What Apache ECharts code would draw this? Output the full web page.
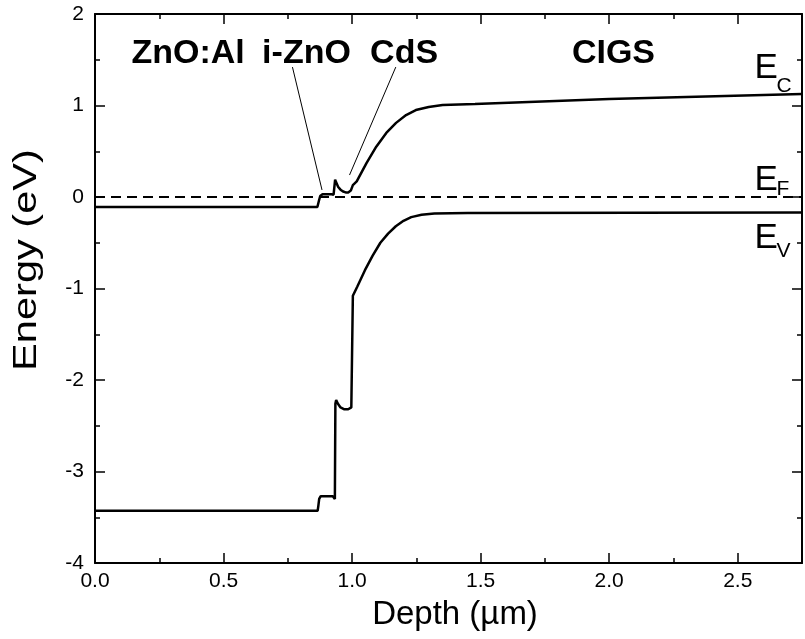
<!DOCTYPE html>
<html>
<head>
<meta charset="utf-8">
<script src="https://cdn.jsdelivr.net/npm/echarts@6/dist/echarts.min.js"></script>
<style>
  html, body { margin: 0; padding: 0; background: #fff; }
  #chart { width: 805px; height: 639px; }
</style>
</head>
<body>
<div id="chart"></div>
<script>
// conduction band edge E_C
const ecDepth = [0, 0.865, 0.869, 0.872, 0.876, 0.885, 0.92, 0.928, 0.932, 0.934, 0.938, 0.946, 0.955,
  0.965, 0.975, 0.985, 0.995, 1.0, 1.003, 1.018, 1.056, 1.094, 1.133, 1.171, 1.21, 1.248, 1.298, 1.352,
  1.478, 2.0, 2.75];
const ecEnergy = [-0.11, -0.11, -0.09, -0.03, 0.01, 0.03, 0.03, 0.025, 0.02, 0.19, 0.16, 0.11, 0.08,
  0.06, 0.05, 0.05, 0.07, 0.08, 0.13, 0.17, 0.37, 0.55, 0.7, 0.81, 0.896, 0.95, 0.984, 1.005,
  1.016, 1.07, 1.125];

// valence band edge E_V
const evDepth = [0, 0.866, 0.869, 0.872, 0.878, 0.925, 0.93, 0.933, 0.935, 0.938, 0.945, 0.955, 0.97,
  0.985, 0.997, 1.0, 1.003, 1.02, 1.05, 1.08, 1.11, 1.14, 1.17, 1.2, 1.23, 1.27, 1.32, 1.45, 2.75];
const evEnergy = [-3.43, -3.43, -3.37, -3.3, -3.27, -3.27, -3.29, -3.3, -2.26, -2.22, -2.26, -2.3, -2.32,
  -2.32, -2.3, -2.28, -1.08, -0.98, -0.8, -0.64, -0.5, -0.4, -0.32, -0.26, -0.22, -0.195, -0.18, -0.175, -0.17];

// Fermi level E_F
const efDepth = [0, 2.75];
const efEnergy = [0, 0];

const xTicks = [0, 0.5, 1.0, 1.5, 2.0, 2.5];
const yTicks = [-4, -3, -2, -1, 0, 1, 2];

const pairs = (xs, ys) => xs.map((x, i) => [x, ys[i]]);

const chart = echarts.init(document.getElementById("chart"));

const axisCommon = {
  axisLine: { onZero: false, lineStyle: { color: "#000", width: 2 } },
  axisTick: { inside: true, length: 10, lineStyle: { color: "#000", width: 1.5 } },
  minorTick: { show: true, splitNumber: 2, length: 5, lineStyle: { color: "#000", width: 1.5 } },
  splitLine: { show: false },
  minorSplitLine: { show: false },
};

const option = {
  animation: false,
  backgroundColor: "#fff",
  grid: { left: 95, right: -6, top: 14, bottom: 76 },
  xAxis: [
    {
      type: "value", min: 0, max: 2.75, interval: 0.5, position: "bottom",
      ...axisCommon,
      axisLabel: {
        color: "#000", fontSize: 21, margin: 8,
        fontFamily: "'Liberation Sans', Arial, sans-serif",
        formatter: (v) => (xTicks.some((t) => Math.abs(t - v) < 1e-6) ? v.toFixed(1) : ""),
      },
    },
    {
      type: "value", min: 0, max: 2.75, interval: 0.5, position: "top",
      ...axisCommon,
      axisLabel: { show: false },
    },
  ],
  yAxis: [
    {
      type: "value", min: -4, max: 2, interval: 1, position: "left",
      ...axisCommon,
      axisLabel: {
        color: "#000", fontSize: 21, margin: 11,
        fontFamily: "'Liberation Sans', Arial, sans-serif",
        formatter: (v) => (yTicks.includes(v) ? String(v) : ""),
      },
    },
    {
      type: "value", min: -4, max: 2, interval: 1, position: "right",
      ...axisCommon,
      axisLabel: { show: false },
    },
  ],
  series: [
    {
      name: "E_C", type: "line", data: pairs(ecDepth, ecEnergy),
      showSymbol: false, lineStyle: { color: "#000", width: 2.5 }, z: 3,
    },
    {
      name: "E_V", type: "line", data: pairs(evDepth, evEnergy),
      showSymbol: false, lineStyle: { color: "#000", width: 2.5 }, z: 3,
    },
    {
      name: "E_F", type: "line", data: pairs(efDepth, efEnergy),
      showSymbol: false, lineStyle: { color: "#000", width: 2, type: [10, 6] }, z: 2,
    },
  ],
};

chart.setOption(option);

// annotations, anchored in data coordinates
const px = (x, y) => chart.convertToPixel({ xAxisIndex: 0, yAxisIndex: 0 }, [x, y]);
const boldFont = "bold 34px 'Liberation Sans', Arial, sans-serif";
const regFont = "35px 'Liberation Sans', Arial, sans-serif";
const subFont = "21px 'Liberation Sans', Arial, sans-serif";

const regionLabels = [
  { text: "ZnO:Al", at: [0.142, 1.572] },
  { text: "i-ZnO", at: [0.65, 1.572] },
  { text: "CdS", at: [1.07, 1.572] },
  { text: "CIGS", at: [1.855, 1.572] },
];
const leaders = [
  { from: [0.768, 1.42], to: [0.883, 0.077] },
  { from: [1.17, 1.42], to: [0.99, 0.24] },
];
const bandLabels = [
  { main: "E", sub: "C", at: [2.565, 1.404], dy: 17.7 },
  { main: "E", sub: "F", at: [2.565, 0.184], dy: 9.3 },
  { main: "E", sub: "V", at: [2.565, -0.454], dy: 12.7 },
];

const graphic = [];
regionLabels.forEach((l) => {
  const p = px(l.at[0], l.at[1]);
  graphic.push({
    type: "text", x: p[0], y: p[1],
    style: { text: l.text, font: boldFont, fill: "#000", align: "left", verticalAlign: "middle" },
  });
});
leaders.forEach((l) => {
  const a = px(l.from[0], l.from[1]);
  const b = px(l.to[0], l.to[1]);
  graphic.push({
    type: "line", shape: { x1: a[0], y1: a[1], x2: b[0], y2: b[1] },
    style: { stroke: "#000", lineWidth: 1 },
  });
});
bandLabels.forEach((l) => {
  const p = px(l.at[0], l.at[1]);
  graphic.push({
    type: "text", x: p[0], y: p[1],
    style: { text: l.main, font: regFont, fill: "#000", align: "left", verticalAlign: "middle" },
  });
  graphic.push({
    type: "text", x: p[0] + 22, y: p[1] + l.dy,
    style: { text: l.sub, font: subFont, fill: "#000", align: "left", verticalAlign: "middle" },
  });
});

// axis titles
graphic.push({
  type: "text", x: 27, y: 260, rotation: Math.PI / 2, scaleX: 1.26,
  style: { text: "Energy (eV)", font: "33px 'Liberation Sans', Arial, sans-serif", fill: "#000", align: "center", verticalAlign: "middle" },
});
graphic.push({
  type: "text", x: 455, y: 615,
  style: { text: "Depth (µm)", font: "33px 'Liberation Sans', Arial, sans-serif", fill: "#000", align: "center", verticalAlign: "middle" },
});

chart.setOption({ graphic });
</script>
</body>
</html>
